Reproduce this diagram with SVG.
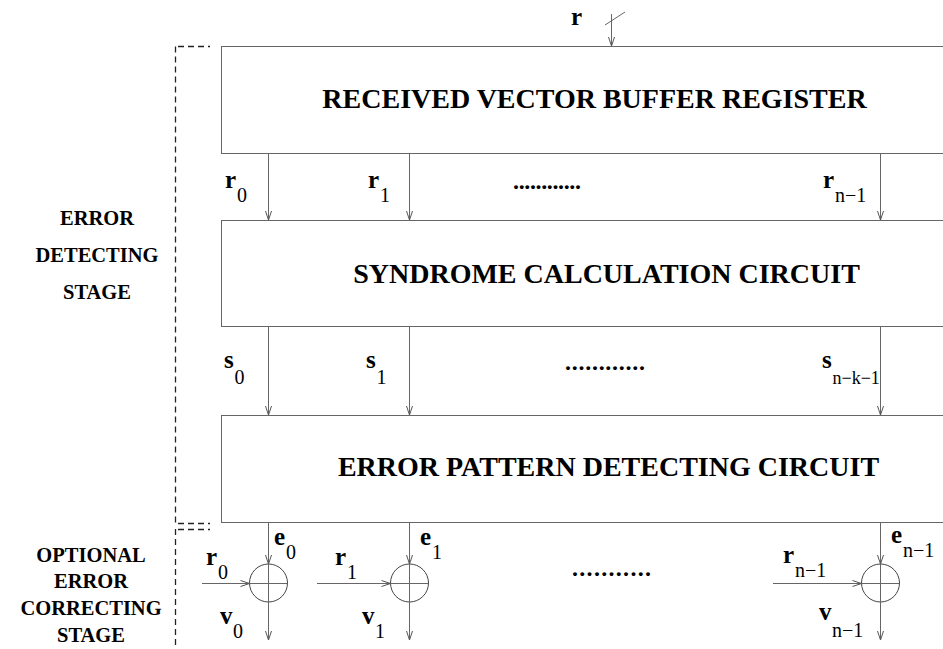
<svg xmlns="http://www.w3.org/2000/svg" width="943" height="649" viewBox="0 0 943 649">
<defs>
<marker id="arr" viewBox="0 0 10 8" refX="10" refY="4" markerWidth="10" markerHeight="8" orient="auto" markerUnits="userSpaceOnUse">
<path d="M1,1 L10,4 L1,7" fill="none" stroke="#555" stroke-width="1"/>
</marker>
<style>
.box{fill:#fff;stroke:#666;stroke-width:1}
.ln{fill:none;stroke:#666;stroke-width:1}
.dash{fill:none;stroke:#222;stroke-width:1.3;stroke-dasharray:6,4}
.big{font-family:"Liberation Serif",serif;font-weight:bold;font-size:28px;fill:#000;text-anchor:middle}
.side{font-family:"Liberation Serif",serif;font-weight:bold;font-size:20.5px;fill:#000;text-anchor:middle}
.v{font-family:"Liberation Serif",serif;font-weight:bold;font-size:25px;fill:#000}
.sub{font-family:"Liberation Serif",serif;font-size:20px;fill:#000}
.dots{font-family:"Liberation Serif",serif;font-weight:bold;font-size:24px;fill:#000}
.xor{fill:#fff;stroke:#444;stroke-width:1}
</style>
</defs>
<rect width="943" height="649" fill="#fff"/>

<g id="stage-brackets">
<path class="dash" d="M175.5,46.5 V523"/>
<path class="dash" d="M175.5,529 V649"/>
<path class="dash" d="M178,46.5 H210"/>
<path class="dash" d="M178,523.5 H210"/>
<path class="dash" d="M178,529.5 H210"/>
</g>

<g id="label-detect">
<text class="side" x="97" y="225">ERROR</text>
<text class="side" x="97" y="262">DETECTING</text>
<text class="side" x="97" y="299">STAGE</text>
</g>
<g id="label-correct">
<text class="side" x="91" y="562">OPTIONAL</text>
<text class="side" x="91" y="588">ERROR</text>
<text class="side" x="91" y="615">CORRECTING</text>
<text class="side" x="91" y="642">STAGE</text>
</g>

<g id="buffer">
<rect class="box" x="221.5" y="46.5" width="740" height="107"/>
<text class="big" x="594.5" y="108">RECEIVED VECTOR BUFFER REGISTER</text>
</g>
<g id="syndrome">
<rect class="box" x="221.5" y="220.5" width="740" height="106"/>
<text class="big" x="606.5" y="283">SYNDROME CALCULATION CIRCUIT</text>
</g>
<g id="detector">
<rect class="box" x="221.5" y="415.5" width="740" height="107"/>
<text class="big" x="608.5" y="476">ERROR PATTERN DETECTING CIRCUIT</text>
</g>

<g id="xor0"><circle class="xor" cx="268.5" cy="583" r="19"/></g>
<g id="xor1"><circle class="xor" cx="409.5" cy="583" r="19"/></g>
<g id="xorn"><circle class="xor" cx="880.5" cy="583" r="19"/></g>

<g id="connectors">
<path class="ln" d="M611.5,14 V46" marker-end="url(#arr)"/>
<path class="ln" d="M605,25 L625,12"/>
<path class="ln" d="M268.5,153.5 V220" marker-end="url(#arr)"/>
<path class="ln" d="M409.5,153.5 V220" marker-end="url(#arr)"/>
<path class="ln" d="M880.5,153.5 V220" marker-end="url(#arr)"/>
<path class="ln" d="M268.5,326.5 V415" marker-end="url(#arr)"/>
<path class="ln" d="M409.5,326.5 V415" marker-end="url(#arr)"/>
<path class="ln" d="M880.5,326.5 V415" marker-end="url(#arr)"/>
<path class="ln" d="M268.5,522.5 V564" marker-end="url(#arr)"/>
<path class="ln" d="M268.5,564 V640" marker-end="url(#arr)"/>
<path class="ln" d="M202,583.5 H249.5" marker-end="url(#arr)"/>
<path class="ln" d="M249.5,583.5 H287.5"/>
<path class="ln" d="M409.5,522.5 V564" marker-end="url(#arr)"/>
<path class="ln" d="M409.5,564 V640" marker-end="url(#arr)"/>
<path class="ln" d="M317,583.5 H390.5" marker-end="url(#arr)"/>
<path class="ln" d="M390.5,583.5 H428.5"/>
<path class="ln" d="M880.5,522.5 V564" marker-end="url(#arr)"/>
<path class="ln" d="M880.5,564 V640" marker-end="url(#arr)"/>
<path class="ln" d="M773,583.5 H861.5" marker-end="url(#arr)"/>
<path class="ln" d="M861.5,583.5 H899.5"/>
</g>

<g id="labels">
<text class="v" x="571" y="25">r</text>

<text class="v" x="225" y="188">r</text><text class="sub" x="237" y="202">0</text>
<text class="v" x="368" y="188">r</text><text class="sub" x="380" y="202">1</text>
<text class="v" x="823" y="188">r</text><text class="sub" x="835" y="202">n−1</text>
<text class="dots" x="513" y="189" textLength="68" lengthAdjust="spacing">............</text>

<text class="v" x="224" y="368">s</text><text class="sub" x="234.5" y="384">0</text>
<text class="v" x="366" y="368">s</text><text class="sub" x="376.5" y="384">1</text>
<text class="v" x="822" y="368">s</text><text class="sub" x="832.5" y="384" style="font-size:18px">n−k−1</text>
<text class="dots" x="565" y="370" textLength="80" lengthAdjust="spacing">............</text>

<text class="v" x="274" y="545">e</text><text class="sub" x="286" y="559">0</text>
<text class="v" x="420" y="545">e</text><text class="sub" x="432" y="559">1</text>
<text class="v" x="891" y="543">e</text><text class="sub" x="903" y="557">n−1</text>

<text class="v" x="206" y="565">r</text><text class="sub" x="218" y="579">0</text>
<text class="v" x="335" y="565">r</text><text class="sub" x="347" y="579">1</text>
<text class="v" x="783" y="563">r</text><text class="sub" x="795" y="577">n−1</text>

<text class="v" x="220" y="624">v</text><text class="sub" x="233" y="638">0</text>
<text class="v" x="362" y="624">v</text><text class="sub" x="375" y="638">1</text>
<text class="v" x="819" y="620">v</text><text class="sub" x="832" y="637">n−1</text>
<text class="dots" x="572" y="576" textLength="79" lengthAdjust="spacing">...........</text>
</g>
</svg>
